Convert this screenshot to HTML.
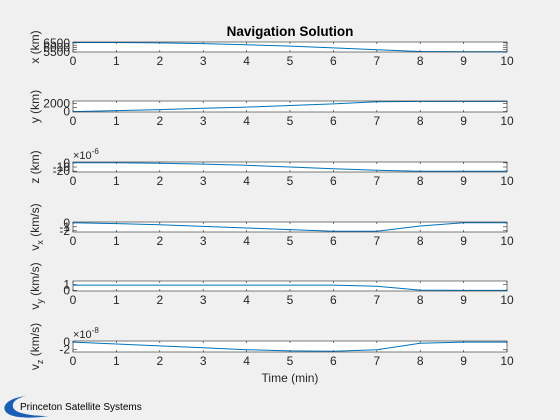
<!DOCTYPE html>
<html><head><meta charset="utf-8"><style>
html,body{margin:0;padding:0;background:#f0f0f0;}
svg{display:block;font-family:"Liberation Sans",sans-serif;}
</style></head><body>
<svg id="chart" width="560" height="420" viewBox="0 0 560 420">
<rect width="560" height="420" fill="#f0f0f0"/>
<text x="290" y="36" text-anchor="middle" font-size="13.5" font-weight="bold" fill="#000">Navigation Solution</text>
<text x="290" y="382" text-anchor="middle" font-size="12" fill="#262626">Time (min)</text>
<g>
<path d="M26,396 C8,398 1,406 6,412 C11,418 30,419 48,416 C30,416 14,413 13,407 C12,401 18,398 26,396 Z" fill="#1a5fb4"/>
<text x="20" y="410" font-size="10" fill="#000">Princeton Satellite Systems</text>
</g>
</svg>
<script>
const times = [0,1,2,3,4,5,6,7,8,9,10];
const xValues = [6550,6540,6500,6420,6300,6150,5950,5750,5550,5520,5520];
const yValues = [0,250,500,800,1100,1500,1900,2400,2500,2500,2500];
const zValues = [0,0,-1,-3,-6,-10,-14,-18,-20,-20,-20];
const vxValues = [0,-0.2,-0.5,-0.9,-1.3,-1.7,-2.1,-2.1,-0.8,0,0];
const vyValues = [0.9,0.9,0.9,0.9,0.9,0.9,0.9,0.7,0.05,0,0];
const vzValues = [0,-0.5,-1,-1.5,-2,-2.3,-2.4,-2,-0.3,0,0];
const xTickLabels = ["0","1","2","3","4","5","6","7","8","9","10"];

const panels = [
 {name:"x-position",top:42,bot:52,ymin:5500,ymax:6600,ticks:[5500,5750,6000,6250,6500],labels:["5500","","6000","","6500"],vals:xValues,ylab:"x (km)"},
 {name:"y-position",top:101,bot:112,ymin:-100,ymax:2600,ticks:[0,1000,2000],labels:["0","","2000"],vals:yValues,ylab:"y (km)"},
 {name:"z-position",top:162,bot:172,ymin:-22,ymax:2,ticks:[-20,-10,0],labels:["-20","-10","0"],vals:zValues,ylab:"z (km)",exp:"-6"},
 {name:"x-velocity",top:222,bot:232,ymin:-2.3,ymax:0.2,ticks:[-2,-1,0],labels:["-2","-1","0"],vals:vxValues,ylab:"v",sub:"x"},
 {name:"y-velocity",top:281,bot:291,ymin:-0.1,ymax:1.6,ticks:[0,1],labels:["0","1"],vals:vyValues,ylab:"v",sub:"y"},
 {name:"z-velocity",top:341,bot:352,ymin:-2.6,ymax:0.3,ticks:[-2,0],labels:["-2","0"],vals:vzValues,ylab:"v",sub:"z",exp:"-8"}
];
const L=73,R=507;
const svg=document.getElementById('chart');
const NS="http://www.w3.org/2000/svg";
function mk(tag,attrs,parent){const e=document.createElementNS(NS,tag);for(const k in attrs)e.setAttribute(k,attrs[k]);parent.appendChild(e);return e;}
function sx(t){return L+(t-0)/(10-0)*(R-L);}
panels.forEach(p=>{
 const sy=v=>p.bot-(v-p.ymin)/(p.ymax-p.ymin)*(p.bot-p.top);
 const g=mk('g',{},svg);
 
 
 const bg=mk('rect',{x:L,y:p.top,width:R-L,height:p.bot-p.top,fill:'#fff'},g);
 
 
 times.forEach((t,i)=>{
  const x=sx(t);
  mk('line',{x1:x,x2:x,y1:p.top,y2:p.top+2,stroke:'#262626','stroke-width':0.6},g);
  mk('line',{x1:x,x2:x,y1:p.bot,y2:p.bot-2,stroke:'#262626','stroke-width':0.6},g);
  const tl=mk('text',{x:x,y:p.bot+13,'text-anchor':'middle','font-size':12,fill:'#262626'},g);
  tl.textContent=xTickLabels[i];
  
  
 });
 p.ticks.forEach((v,i)=>{
  const y=sy(v);
  mk('line',{x1:L,x2:L+4,y1:y,y2:y,stroke:'#262626','stroke-width':0.6},g);
  mk('line',{x1:R,x2:R-4,y1:y,y2:y,stroke:'#262626','stroke-width':0.6},g);
  if(p.labels[i]){
   const tl=mk('text',{x:L-3,y:y+4,'text-anchor':'end','font-size':12,fill:'#262626'},g);
   tl.textContent=p.labels[i];
   
   
  }
 });
 const pts=times.map((t,i)=>sx(t).toFixed(1)+','+sy(p.vals[i]).toFixed(1)).join(' ');
 const line=mk('polyline',{points:pts,fill:'none',stroke:'#0072bd','stroke-width':1},g);
 
 
 mk('rect',{x:L,y:p.top,width:R-L,height:p.bot-p.top,fill:'none',stroke:'#262626','stroke-width':0.6},g);
 const cy=(p.top+p.bot)/2;
 const yl=mk('text',{x:0,y:0,'text-anchor':'middle','font-size':12,fill:'#262626',transform:'translate(39,'+cy+') rotate(-90)'},g);
 
 
 if(p.sub){
  const a=mk('tspan',{},yl);a.textContent='v';
  const b=mk('tspan',{dy:4,'font-size':9},yl);b.textContent=p.sub;
  const c=mk('tspan',{dy:-4},yl);c.textContent=' (km/s)';
 } else yl.textContent=p.ylab;
 if(p.exp){
  const et=mk('text',{x:L,y:p.top-3,'font-size':11,fill:'#262626'},g);
  
  
  const a=mk('tspan',{},et);a.textContent='\u00d710';
  const b=mk('tspan',{dy:-5,'font-size':8},et);b.textContent=p.exp;
 }
});
</script>
</body></html>
